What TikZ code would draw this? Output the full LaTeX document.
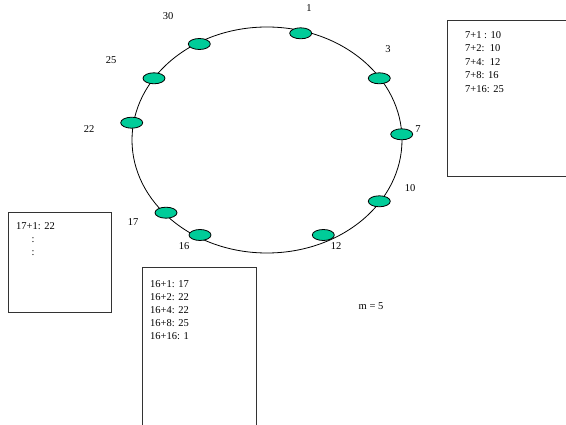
\documentclass[tikz,border=0pt]{standalone}
\usepackage{fontspec}
\setmainfont{Liberation Serif}
\usetikzlibrary{shapes.geometric}
\definecolor{ringgreen}{RGB}{0,204,153}

\begin{document}
\begin{tikzpicture}[
  x=1pt, y=-1pt,
  peer/.style={ellipse, draw=black, fill=ringgreen, line width=0.8pt,
    minimum width=22pt, minimum height=11pt, inner sep=0pt},
  lbl/.style={font=\fontsize{10.5}{13}\selectfont, inner sep=0pt},
  table/.style={font=\fontsize{10.5}{13.5}\selectfont, align=left,
    anchor=north west, inner sep=0pt},
  tbox/.style={draw=black!80, line width=0.8pt}
]
\useasboundingbox (0,0) rectangle (566,425);

% the ring
\draw [line width=0.8pt] (267,140) ellipse [x radius=135, y radius=113];

% peers on the ring
\node [peer] (n1)  at (300.7,33.3) {};
\node [peer] (n3)  at (379.3,78.3) {};
\node [peer] (n7)  at (401.7,134.3) {};
\node [peer] (n10) at (379.3,201.3) {};
\node [peer] (n12) at (323.3,235) {};
\node [peer] (n16) at (200,235) {};
\node [peer] (n17) at (166,212.7) {};
\node [peer] (n22) at (131.7,122.7) {};
\node [peer] (n25) at (154,78.3) {};
\node [peer] (n30) at (199.3,44) {};

% identifiers
\node [lbl] (l1)  at (309,8) {1};
\node [lbl] (l3)  at (388,49) {3};
\node [lbl] (l7)  at (418,129) {7};
\node [lbl] (l10) at (410,188) {10};
\node [lbl] (l12) at (336,246) {12};
\node [lbl] (l16) at (184,246) {16};
\node [lbl] (l17) at (133,222) {17};
\node [lbl] (l22) at (89,129) {22};
\node [lbl] (l25) at (111,60) {25};
\node [lbl] (l30) at (168,16) {30};

% finger tables
\draw [tbox] (447,176) -- (447,20) -- (570,20);
\draw [tbox] (447,176) -- (570,176);
\node [table] (t7) at (465,31) {7+1 : 10\\7+2:\ \ 10\\7+4:\ \ 12\\7+8: 16\\7+16: 25};

\draw [tbox] (8,212) rectangle (111,312);
\node [table] (t17) at (16,222) {17+1: 22};
\node [lbl] (d1) at (33,240) {:};
\node [lbl] (d2) at (33,253) {:};

\draw [tbox] (142.5,430) -- (142.5,267) -- (256,267) -- (256,430);
\node [table, font=\fontsize{10.5}{13.2}\selectfont] (t16) at (150,280)
  {16+1: 17\\16+2: 22\\16+4: 22\\16+8: 25\\16+16: 1};

\node [lbl] (m) at (371,306) {m = 5};
\end{tikzpicture}
\end{document}
